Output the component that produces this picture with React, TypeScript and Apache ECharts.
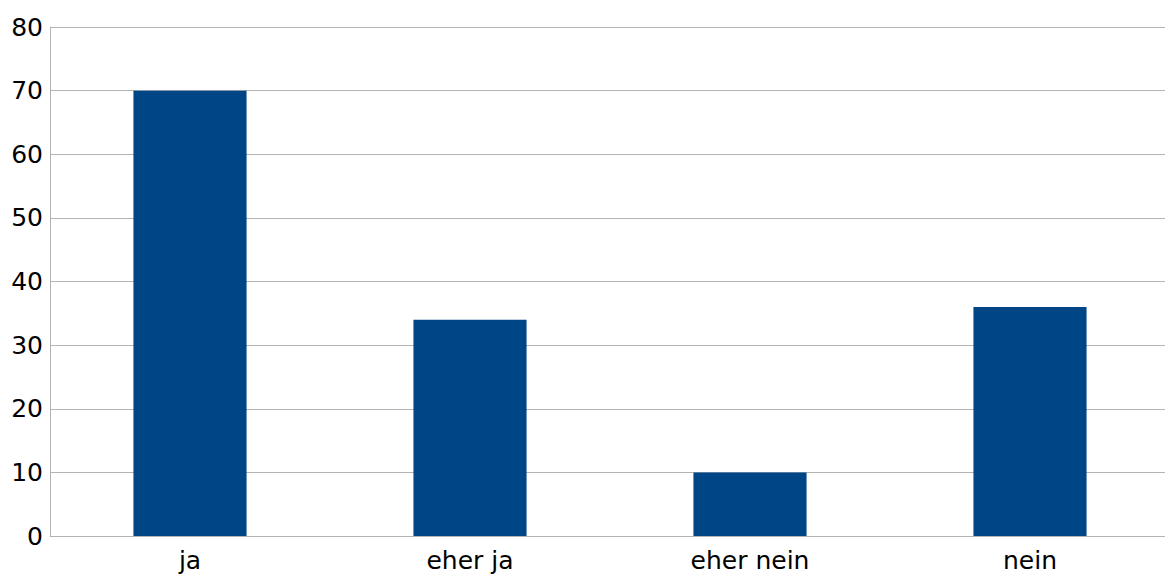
import React, { useEffect, useRef } from "react";
import * as echarts from "echarts";

const categories = ["ja", "eher ja", "eher nein", "nein"];
const values = [70, 34, 10, 36];

export default function App() {
  const ref = useRef<HTMLDivElement>(null);
  useEffect(() => {
    if (!ref.current) return;
    const chart = echarts.init(ref.current, null, { renderer: "svg" });
    chart.setOption({
      animation: false,
      backgroundColor: "#ffffff",
      grid: {
        left: 50,
        width: 1120,
        top: 27,
        height: 509,
        containLabel: false,
        outerBoundsMode: "none",
      },
      xAxis: {
        type: "category",
        data: categories,
        axisLine: { show: true, lineStyle: { color: "#b3b3b3", width: 1 } },
        axisTick: { show: false },
        axisLabel: { color: "#000", fontSize: 25, fontFamily: "DejaVu Sans", margin: 12 },
      },
      yAxis: {
        type: "value",
        min: 0,
        max: 80,
        interval: 10,
        axisLine: { show: true, lineStyle: { color: "#b3b3b3", width: 1 } },
        axisTick: { show: false },
        splitLine: { show: true, lineStyle: { color: "#b3b3b3", width: 1 } },
        axisLabel: { color: "#000", fontSize: 25, fontFamily: "DejaVu Sans", margin: 7 },
      },
      series: [
        {
          type: "bar",
          data: values,
          barWidth: "40.4%",
          itemStyle: { color: "#004586" },
        },
      ],
    });
    return () => chart.dispose();
  }, []);
  return (
    <div
      ref={ref}
      style={{ position: "fixed", left: 0, top: 0, width: 1165, height: 574 }}
    />
  );
}
